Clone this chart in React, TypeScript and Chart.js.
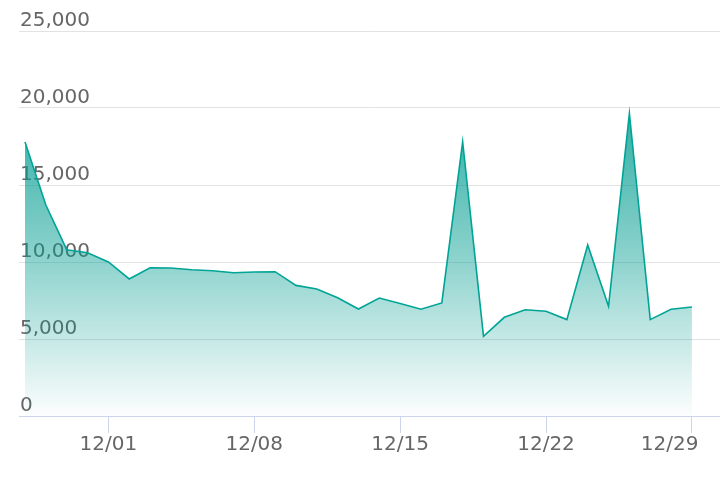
import React, { useEffect, useRef } from "react";
import { Chart, registerables } from "chart.js";

Chart.register(...registerables);

const dates = [
  "11/27", "11/28", "11/29", "11/30", "12/01", "12/02", "12/03", "12/04", "12/05",
  "12/06", "12/07", "12/08", "12/09", "12/10", "12/11", "12/12", "12/13", "12/14",
  "12/15", "12/16", "12/17", "12/18", "12/19", "12/20", "12/21", "12/22", "12/23",
  "12/24", "12/25", "12/26", "12/27", "12/28", "12/29",
];

const values = [
  17800, 13700, 10800, 10600, 10000, 8900, 9630, 9610, 9500,
  9430, 9300, 9350, 9370, 8480, 8250, 7680, 6950, 7660,
  7300, 6930, 7340, 17800, 5170, 6410, 6900, 6800, 6260,
  11100, 7120, 19650, 6260, 6930, 7080,
];

const xTickLabels = ["12/01", "12/08", "12/15", "12/22", "12/29"];
const yTickValues = [0, 5000, 10000, 15000, 20000, 25000];

const LINE = "rgb(0,164,150)";

export default function App() {
  const ref = useRef<HTMLCanvasElement | null>(null);

  useEffect(() => {
    document.body.style.margin = "0";
    const canvas = ref.current;
    if (!canvas) return;
    const points = values.map((v, i) => ({ x: i, y: v }));
    const tickIdx = xTickLabels.map((l) => dates.indexOf(l));
    const lastIdx = dates.length - 1;

    const chart = new Chart(canvas, {
      type: "line",
      data: {
        datasets: [
          {
            data: points,
            borderColor: LINE,
            borderWidth: 1.6,
            pointRadius: 0,
            tension: 0,
            fill: "origin",
            backgroundColor: (ctx: any) => {
              const area = ctx.chart.chartArea;
              if (!area) return "rgba(0,0,0,0)";
              const g = ctx.chart.ctx.createLinearGradient(0, area.top, 0, area.bottom);
              g.addColorStop(0, "rgba(0,156,144,1)");
              g.addColorStop(0.6, "rgba(0,156,144,0.44)");
              g.addColorStop(1, "rgba(0,156,144,0.01)");
              return g;
            },
          },
        ],
      },
      options: {
        animation: false,
        responsive: true,
        maintainAspectRatio: false,
        layout: { padding: { left: 17, right: 0, top: 31, bottom: 31 } },
        plugins: { legend: { display: false }, tooltip: { enabled: false } },
        scales: {
          x: {
            type: "linear",
            min: -0.288,
            max: 33.348,
            afterBuildTicks: (scale: any) => {
              scale.ticks = tickIdx.map((i) => ({ value: i }));
            },
            afterFit: (scale: any) => {
              scale.paddingLeft = 0;
              scale.paddingRight = 0;
            },
            grid: {
              drawOnChartArea: false,
              drawTicks: true,
              tickLength: 17,
              color: "#ccd6eb",
              lineWidth: 1,
            },
            border: { display: true, color: "#ccd6eb", width: 1 },
            ticks: {
              autoSkip: false,
              maxRotation: 0,
              padding: 0,
              color: "#666666",
              font: { family: "DejaVu Sans", size: 20 },
              callback: (v: any) => {
                const i = Math.round(Number(v));
                const label = dates[i];
                return i === lastIdx ? label + "       " : label;
              },
            },
          },
          y: {
            min: 0,
            max: 25000,
            afterBuildTicks: (scale: any) => {
              scale.ticks = yTickValues.map((v) => ({ value: v }));
            },
            grid: { color: "#e2e2e2", lineWidth: 1, drawTicks: false },
            border: { display: false },
            ticks: {
              mirror: true,
              padding: 1,
              labelOffset: -10,
              color: "#666666",
              font: { family: "DejaVu Sans", size: 20 },
              callback: (v: any) => Number(v).toLocaleString("en-US"),
            },
          },
        },
      },
    });
    return () => chart.destroy();
  }, []);

  return (
    <div style={{ width: 720, height: 488, position: "relative" }}>
      <canvas ref={ref} />
    </div>
  );
}
